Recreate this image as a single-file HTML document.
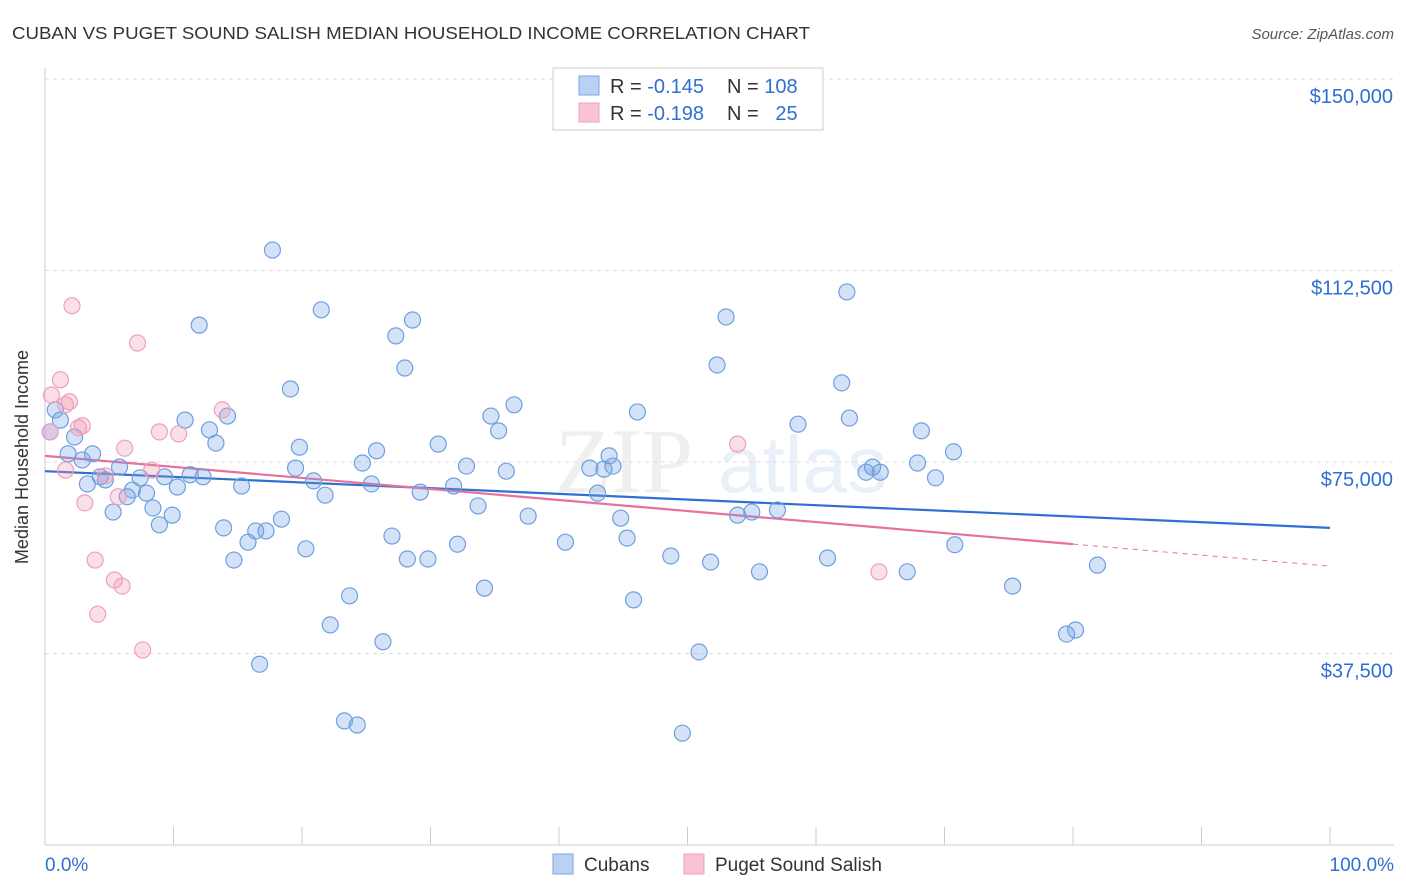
<!DOCTYPE html>
<html><head><meta charset="utf-8"><style>
body{margin:0;background:#fff;font-family:"Liberation Sans",sans-serif;}
svg{display:block}
</style></head><body>
<svg id="chart" width="1406" height="892" viewBox="0 0 1406 892" xmlns="http://www.w3.org/2000/svg">
<text x="12" y="39" font-size="17.5" fill="#333" textLength="798" lengthAdjust="spacingAndGlyphs">CUBAN VS PUGET SOUND SALISH MEDIAN HOUSEHOLD INCOME CORRELATION CHART</text>
<text x="1394" y="39" font-size="15" fill="#555" font-style="italic" text-anchor="end">Source: ZipAtlas.com</text>
<g opacity="0.13">
<text x="555" y="492" font-size="92" font-family="Liberation Serif,serif" fill="#888">ZIP</text>
<text x="718" y="492" font-size="80" fill="#5a8fd6">atlas</text>
</g>
<g id="grid"></g>
<g id="axes"></g>
<g id="trends"></g>
<g id="points"></g>
<text x="28" y="457" font-size="18" fill="#333" text-anchor="middle" transform="rotate(-90 28 457)">Median Household Income</text>
<g>
<rect x="553" y="68" width="270" height="62" fill="#fff" stroke="#ccc"/>
<rect x="579" y="76" width="20" height="19" fill="#b9d1f3" stroke="#7aa5e5"/>
<rect x="579" y="103" width="20" height="19" fill="#f8c3d3" stroke="#eea0bb"/>
<text x="610" y="93" font-size="20" fill="#333">R = <tspan fill="#2f6fd0">-0.145</tspan></text>
<text x="727" y="93" font-size="20" fill="#333">N = <tspan fill="#2f6fd0">108</tspan></text>
<text x="610" y="120" font-size="20" fill="#333">R = <tspan fill="#2f6fd0">-0.198</tspan></text>
<text x="727" y="120" font-size="20" fill="#333">N = <tspan fill="#2f6fd0">&#160;&#160;25</tspan></text>
</g>
<g>
<rect x="553" y="854" width="20" height="20" fill="#b9d1f3" stroke="#7aa5e5"/>
<text x="584" y="871" font-size="19" fill="#333">Cubans</text>
<rect x="684" y="854" width="20" height="20" fill="#f8c3d3" stroke="#eea0bb"/>
<text x="715" y="871" font-size="19" fill="#333">Puget Sound Salish</text>
</g>
</svg>
<script>
const yTicks=[37500,75000,112500,150000];
const yTickLabels=["$37,500","$75,000","$112,500","$150,000"];
const xTickLabels=["0.0%","100.0%"];
const cubanX=[0.8,1.2,0.4,1.8,2.3,2.9,3.3,3.7,4.3,4.7,5.3,5.8,6.4,6.8,7.4,7.9,8.4,8.9,9.3,9.9,10.3,10.9,11.3,12.0,12.3,12.8,13.3,13.9,14.2,14.7,15.3,15.8,16.4,16.7,17.2,17.7,18.4,19.1,19.5,19.8,20.3,20.9,21.5,21.8,22.2,23.3,23.7,24.3,24.7,25.4,25.8,26.3,27.0,27.3,28.0,28.2,28.6,29.2,29.8,30.6,31.8,32.1,32.8,33.7,34.2,34.7,35.3,35.9,36.5,37.6,40.5,42.4,43.0,43.5,43.9,44.2,44.8,45.3,45.8,46.1,48.7,49.6,50.9,51.8,52.3,53.0,53.9,55.0,55.6,57.0,58.6,60.9,62.0,62.4,62.6,63.9,64.4,65.0,67.1,67.9,68.2,69.3,70.7,70.8,75.3,79.5,80.2,81.9];
const cubanY=[85200,83200,80900,76600,79900,75400,70700,76600,72100,71500,65200,74000,68200,69500,71900,68900,66000,62700,72100,64600,70100,83200,72500,101800,72100,81300,78700,62100,84000,55800,70300,59300,61500,35400,61500,116500,63800,89300,73800,77900,58000,71300,104800,68500,43100,24300,48800,23500,74800,70700,77200,39800,60500,99700,93400,56000,102800,69100,56000,78500,70300,58900,74200,66400,50300,84000,81100,73200,86200,64400,59300,73800,68900,73600,76200,74200,64000,60100,48000,84800,56600,21900,37800,55400,94000,103400,64600,65200,53500,65600,82400,56200,90500,108300,83600,73000,74000,73000,53500,74800,81100,71900,77000,58800,50700,41300,42100,54800];
const salishX=[0.4,0.5,1.2,1.6,1.9,2.1,2.6,2.9,3.1,3.9,4.1,5.4,5.7,6.0,6.2,7.2,7.6,8.9,10.4,13.8,53.9,64.9,1.6,4.7,8.3];
const salishY=[80900,88100,91100,86200,86800,105600,81700,82100,67000,55800,45200,51900,68200,50700,77700,98300,38200,80900,80500,85200,78500,53500,73400,72300,73400];
const cubanTrend=[73200,62100];
const salishTrend=[76200,54600];
const salishSolidEnd=80;

const NS="http://www.w3.org/2000/svg";
const X0=45,X1=1330,Y0=845,PXPER=191.5/37500;
const sx=v=>X0+(X1-X0)*v/100;
const sy=v=>Y0-v*PXPER;
function mk(tag,attrs,parent){const e=document.createElementNS(NS,tag);for(const k in attrs)e.setAttribute(k,attrs[k]);parent.appendChild(e);return e;}
const grid=document.getElementById('grid'),axes=document.getElementById('axes'),trends=document.getElementById('trends'),pts=document.getElementById('points');
yTicks.forEach((t,i)=>{
  const l=mk('line',{x1:X0,x2:1394,y1:sy(t),y2:sy(t),stroke:'#ddd','stroke-dasharray':'4,4'},grid);
  
  
  const tx=mk('text',{x:1393,y:sy(t)+24,'font-size':20,fill:'#2f6fd0','text-anchor':'end'},axes);
  tx.textContent=yTickLabels[i];
  
  
});
const ax=mk('line',{x1:X0,x2:X0,y1:68,y2:Y0,stroke:'#ccc'},axes);


const bx=mk('line',{x1:X0,x2:1394,y1:Y0,y2:Y0,stroke:'#ccc'},axes);


for(let i=1;i<=10;i++){
  const t=mk('line',{x1:sx(i*10),x2:sx(i*10),y1:Y0-18,y2:Y0,stroke:'#ccc'},axes);
  
  
}
[[0,'start',45],[100,'end',1394]].forEach((d,i)=>{
  const tx=mk('text',{x:d[2],y:871,'font-size':19,fill:'#2f6fd0','text-anchor':d[1]},axes);
  tx.textContent=xTickLabels[i];
  
  
});
cubanX.forEach((x,i)=>{
  const c=mk('circle',{cx:sx(x),cy:sy(cubanY[i]),r:8,fill:'rgba(110,160,230,0.3)',stroke:'#6f9fe0','stroke-width':1.2},pts);
  
  
});
salishX.forEach((x,i)=>{
  const c=mk('circle',{cx:sx(x),cy:sy(salishY[i]),r:8,fill:'rgba(240,150,180,0.3)',stroke:'#eea0bb','stroke-width':1.2},pts);
  
  
});
const bl=mk('line',{x1:sx(0),y1:sy(cubanTrend[0]),x2:sx(100),y2:sy(cubanTrend[1]),stroke:'#2f6fd0','stroke-width':2.2},trends);


const pm=salishTrend[0]+(salishTrend[1]-salishTrend[0])*salishSolidEnd/100;
const pl=mk('line',{x1:sx(0),y1:sy(salishTrend[0]),x2:sx(salishSolidEnd),y2:sy(pm),stroke:'#e8709a','stroke-width':2.2},trends);


const pd=mk('line',{x1:sx(salishSolidEnd),y1:sy(pm),x2:sx(100),y2:sy(salishTrend[1]),stroke:'#e8709a','stroke-width':1,'stroke-dasharray':'5,5'},trends);


</script>
</body></html>
